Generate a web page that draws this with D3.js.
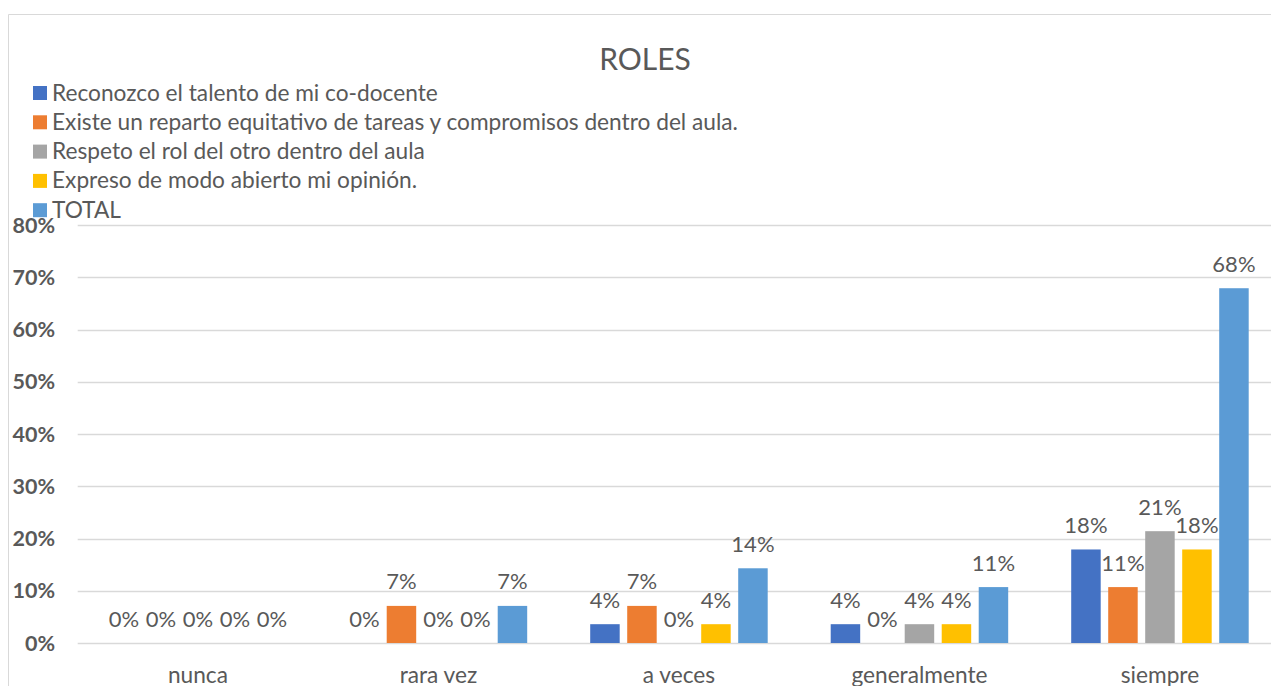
<!DOCTYPE html>
<html>
<head>
<meta charset="utf-8">
<script src="https://cdn.jsdelivr.net/npm/d3@7"></script>
<style>
  html, body { margin: 0; padding: 0; background: #fff; }
  svg { display: block; }
  text { font-family: Lato, "Open Sans", sans-serif; fill: #595959; }
</style>
</head>
<body>
<div id="chart"></div>
<script>
// ROLES - clustered bars, five answers x five series (Excel-style)
var categories = ["nunca", "rara vez", "a veces", "generalmente", "siempre"];
var seriesNames = [
  "Reconozco el talento de mi co-docente",
  "Existe un reparto equitativo de tareas y compromisos dentro del aula.",
  "Respeto el rol del otro dentro del aula",
  "Expreso de modo abierto mi opinión.",
  "TOTAL"
];
var reconozco = [0, 0, 0.036, 0.036, 0.179];
var existe    = [0, 0.071, 0.071, 0, 0.107];
var respeto   = [0, 0, 0, 0.036, 0.214];
var expreso   = [0, 0, 0.036, 0.036, 0.179];
var total     = [0, 0.071, 0.143, 0.107, 0.679];
var yTicks = [0, 0.1, 0.2, 0.3, 0.4, 0.5, 0.6, 0.7, 0.8];
var colors = ["#4472C4", "#ED7D31", "#A5A5A5", "#FFC000", "#5B9BD5"];

var values = [reconozco, existe, respeto, expreso, total];
var W = 1271, H = 686;
var GRID = "#D9D9D9";
var pct = d3.format(".0%");

var svg = d3.select("#chart").append("svg").attr("width", W).attr("height", H);

// chart frame (cropped on the right and bottom)
svg.append("line").attr("x1", 8.5).attr("x2", 8.5).attr("y1", 14.5).attr("y2", H).attr("stroke", GRID);
svg.append("line").attr("x1", 8.5).attr("x2", W).attr("y1", 14.5).attr("y2", 14.5).attr("stroke", GRID);

var x0 = d3.scaleBand().domain(categories).range([77.7, 1280.2]).paddingInner(0.262).paddingOuter(0.131);
var x1 = d3.scaleBand().domain(d3.range(seriesNames.length)).range([0, x0.bandwidth()]).paddingInner(0.203).paddingOuter(0);
var y = d3.scaleLinear().domain([0, 0.8]).range([643, 225]);

// gridlines + y labels
yTicks.forEach(function (t) {
  svg.append("line").attr("x1", 77.7).attr("x2", W).attr("y1", Math.round(y(t)) + 0.5).attr("y2", Math.round(y(t)) + 0.5)
    .attr("stroke", GRID).attr("stroke-width", 1.5);
  svg.append("text").attr("x", 55).attr("y", y(t) + 7.5).attr("text-anchor", "end")
    .attr("font-size", 21.5).attr("font-weight", "bold").text(pct(t));
});

// bars + data labels
var g = svg.append("g");
seriesNames.forEach(function (name, si) {
  categories.forEach(function (c, ci) {
    var v = values[si][ci];
    var bx = x0(c) + x1(si);
    if (v > 0) {
      g.append("rect").attr("x", bx).attr("y", y(v)).attr("width", x1.bandwidth())
        .attr("height", y(0) - y(v)).attr("fill", colors[si]);
    }
    g.append("text").attr("x", bx + x1.bandwidth() / 2).attr("y", y(v) - 16.5)
      .attr("text-anchor", "middle").attr("font-size", 22).text(pct(v));
  });
});

// category labels
categories.forEach(function (c) {
  svg.append("text").attr("x", x0(c) + x0.bandwidth() / 2).attr("y", 683)
    .attr("text-anchor", "middle").attr("font-size", 22.7).text(c);
});

// title
svg.append("text").attr("x", 645).attr("y", 70).attr("text-anchor", "middle")
  .attr("font-size", 30).text("ROLES");

// legend
var leg = svg.append("g");
seriesNames.forEach(function (name, i) {
  var ly = 93 + i * 29.3;
  leg.append("rect").attr("x", 33).attr("y", ly - 7).attr("width", 14).attr("height", 14).attr("fill", colors[i]);
  leg.append("text").attr("x", 52).attr("y", ly + 7.5).attr("font-size", 22.7).text(name);
});
</script>
</body>
</html>
